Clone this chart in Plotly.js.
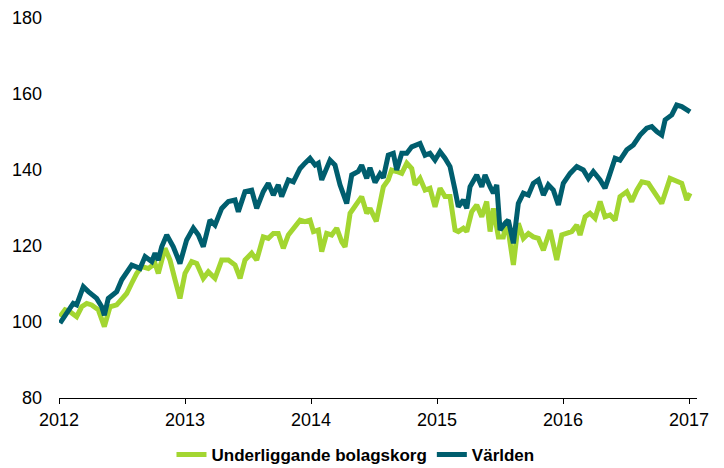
<!DOCTYPE html>
<html>
<head>
<meta charset="utf-8">
<script src="https://cdn.plot.ly/plotly-3.0.1.min.js"></script>
<style>
html,body{margin:0;padding:0;background:#fff;}
#chart{width:724px;height:468px;}
</style>
</head>
<body>
<div id="chart"></div>
<script>
// Series names
const seriesNames = ["Underliggande bolagskorg", "Världen"];

// Underliggande bolagskorg (x in decimal years)
const bolagX = [2012.008,2012.048,2012.087,2012.140,2012.180,2012.220,2012.259,2012.312,2012.360,2012.405,2012.458,2012.498,2012.537,2012.577,2012.617,2012.657,2012.709,2012.762,2012.788,2012.841,2012.881,2012.921,2012.960,2013.000,2013.053,2013.093,2013.145,2013.185,2013.238,2013.291,2013.344,2013.397,2013.437,2013.476,2013.529,2013.569,2013.621,2013.661,2013.701,2013.740,2013.780,2013.820,2013.873,2013.913,2013.952,2013.992,2014.019,2014.058,2014.085,2014.124,2014.164,2014.204,2014.244,2014.270,2014.310,2014.362,2014.402,2014.442,2014.468,2014.518,2014.574,2014.613,2014.640,2014.680,2014.720,2014.760,2014.799,2014.825,2014.865,2014.905,2014.944,2014.984,2015.024,2015.063,2015.103,2015.143,2015.169,2015.209,2015.236,2015.275,2015.315,2015.355,2015.394,2015.421,2015.447,2015.487,2015.526,2015.553,2015.606,2015.645,2015.685,2015.725,2015.764,2015.804,2015.844,2015.897,2015.950,2015.990,2016.029,2016.069,2016.109,2016.135,2016.175,2016.214,2016.254,2016.294,2016.333,2016.373,2016.413,2016.452,2016.506,2016.545,2016.585,2016.625,2016.677,2016.730,2016.783,2016.849,2016.902,2016.942,2016.982,2017.008];
const bolagY = [101.4,103.2,102.7,101.4,104.0,104.9,104.5,103.2,98.8,104.0,104.5,105.8,107.5,110.2,112.8,114.6,114.1,115.4,112.8,119.4,116.3,111.1,106.2,112.8,115.9,115.4,111.5,113.2,111.5,116.3,116.3,115.0,111.5,116.3,118.1,116.3,122.4,122.0,123.3,123.3,119.4,122.9,125.1,126.8,126.4,126.8,123.8,124.2,118.5,123.3,122.9,124.7,121.1,119.8,128.6,130.8,133.0,128.6,129.9,126.5,135.6,137.4,140.0,139.6,139.1,141.8,140.4,136.1,137.8,134.7,135.2,130.3,135.2,133.0,133.0,124.2,123.8,124.7,123.8,129.0,130.8,127.7,131.7,123.8,129.9,122.4,122.4,126.8,115.0,126.0,122.0,123.3,122.4,122.0,118.9,124.2,116.3,122.9,123.3,123.8,125.5,122.9,127.7,128.6,127.3,131.7,127.7,128.2,126.8,133.0,134.3,131.7,134.7,136.9,136.5,133.9,131.2,137.8,136.9,136.5,132.1,133.9];

// Världen (x in decimal years)
const varldenX = [2012.008,2012.074,2012.113,2012.140,2012.193,2012.233,2012.272,2012.299,2012.339,2012.360,2012.391,2012.458,2012.498,2012.577,2012.643,2012.683,2012.736,2012.762,2012.788,2012.815,2012.855,2012.907,2012.960,2013.013,2013.066,2013.106,2013.145,2013.198,2013.238,2013.291,2013.344,2013.397,2013.423,2013.476,2013.529,2013.569,2013.621,2013.661,2013.701,2013.740,2013.767,2013.820,2013.860,2013.913,2013.952,2013.992,2014.032,2014.058,2014.085,2014.151,2014.190,2014.230,2014.283,2014.323,2014.375,2014.402,2014.442,2014.468,2014.508,2014.548,2014.574,2014.613,2014.653,2014.680,2014.720,2014.760,2014.799,2014.825,2014.865,2014.905,2014.944,2014.984,2015.024,2015.063,2015.103,2015.143,2015.169,2015.209,2015.236,2015.262,2015.315,2015.355,2015.381,2015.421,2015.447,2015.474,2015.500,2015.540,2015.566,2015.606,2015.645,2015.685,2015.725,2015.764,2015.804,2015.844,2015.883,2015.923,2015.963,2016.002,2016.056,2016.109,2016.161,2016.201,2016.240,2016.294,2016.333,2016.360,2016.413,2016.452,2016.506,2016.558,2016.611,2016.664,2016.704,2016.744,2016.783,2016.810,2016.863,2016.902,2016.942,2017.008];
const varldenY = [99.7,103.2,104.9,104.5,109.3,108.0,107.1,106.2,104.0,101.8,106.2,108.0,111.1,115.0,114.1,117.2,115.9,118.1,116.3,119.8,122.9,119.8,115.4,121.6,124.7,122.9,119.8,126.8,125.5,129.9,131.7,132.1,129.0,134.3,134.7,129.9,134.3,136.5,133.4,136.1,133.0,137.4,136.9,140.4,141.8,143.1,141.3,141.8,137.4,142.6,141.3,136.1,131.2,138.7,139.6,141.3,137.8,140.6,136.7,139.0,138.0,143.9,144.4,140.0,144.4,144.4,146.1,146.6,147.0,143.9,144.4,142.6,144.8,143.1,140.9,134.7,130.3,132.1,129.9,135.6,138.7,135.6,138.7,135.6,133.9,136.1,124.2,126.0,126.8,120.7,131.2,133.9,133.4,136.5,137.4,133.4,136.1,134.7,130.8,136.5,139.1,140.9,140.0,137.8,139.6,137.4,135.2,137.8,143.1,142.6,145.3,146.6,149.2,151.0,151.4,150.1,149.2,153.2,154.5,157.1,156.7,155.3];

// Axis ticks
const xTickVals = [2012, 2013, 2014, 2015, 2016, 2017];
const xTickText = ["2012", "2013", "2014", "2015", "2016", "2017"];
const yTickVals = [80, 100, 120, 140, 160, 180];

const traces = [
  {x: bolagX, y: bolagY, name: seriesNames[0], type: "scatter", mode: "lines",
   line: {color: "#a3d631", width: 5, shape: "linear"}},
  {x: varldenX, y: varldenY, name: seriesNames[1], type: "scatter", mode: "lines",
   line: {color: "#005e6e", width: 5, shape: "linear"}}
];

const layout = {
  width: 724, height: 468,
  margin: {l: 59, r: 27, t: 18, b: 70, autoexpand: false},
  paper_bgcolor: "#ffffff", plot_bgcolor: "#ffffff",
  font: {family: "Liberation Sans, Arial, sans-serif", size: 18, color: "#000"},
  showlegend: true,
  legend: {orientation: "h", xref: "container", yref: "container",
    x: 0.491, xanchor: "center", y: 0.028, yanchor: "middle",
    font: {family: "Liberation Sans, Arial, sans-serif", size: 17, color: "#000", weight: "bold"},
    itemwidth: 30, traceorder: "normal"},
  xaxis: {range: [2012, 2017.063], tickvals: xTickVals, ticktext: xTickText,
    showgrid: false, zeroline: false, showline: true, linecolor: "#000", linewidth: 1,
    ticks: "outside", ticklen: 5, tickcolor: "#000", tickwidth: 1,
    tickfont: {size: 18, color: "#000"}},
  yaxis: {range: [80, 180], tickvals: yTickVals, showgrid: false, zeroline: false,
    showline: false, ticks: "", ticklabelstandoff: 16,
    tickfont: {size: 18, color: "#000"}}
};

Plotly.newPlot("chart", traces, layout, {staticPlot: true, displayModeBar: false});
</script>
</body>
</html>
